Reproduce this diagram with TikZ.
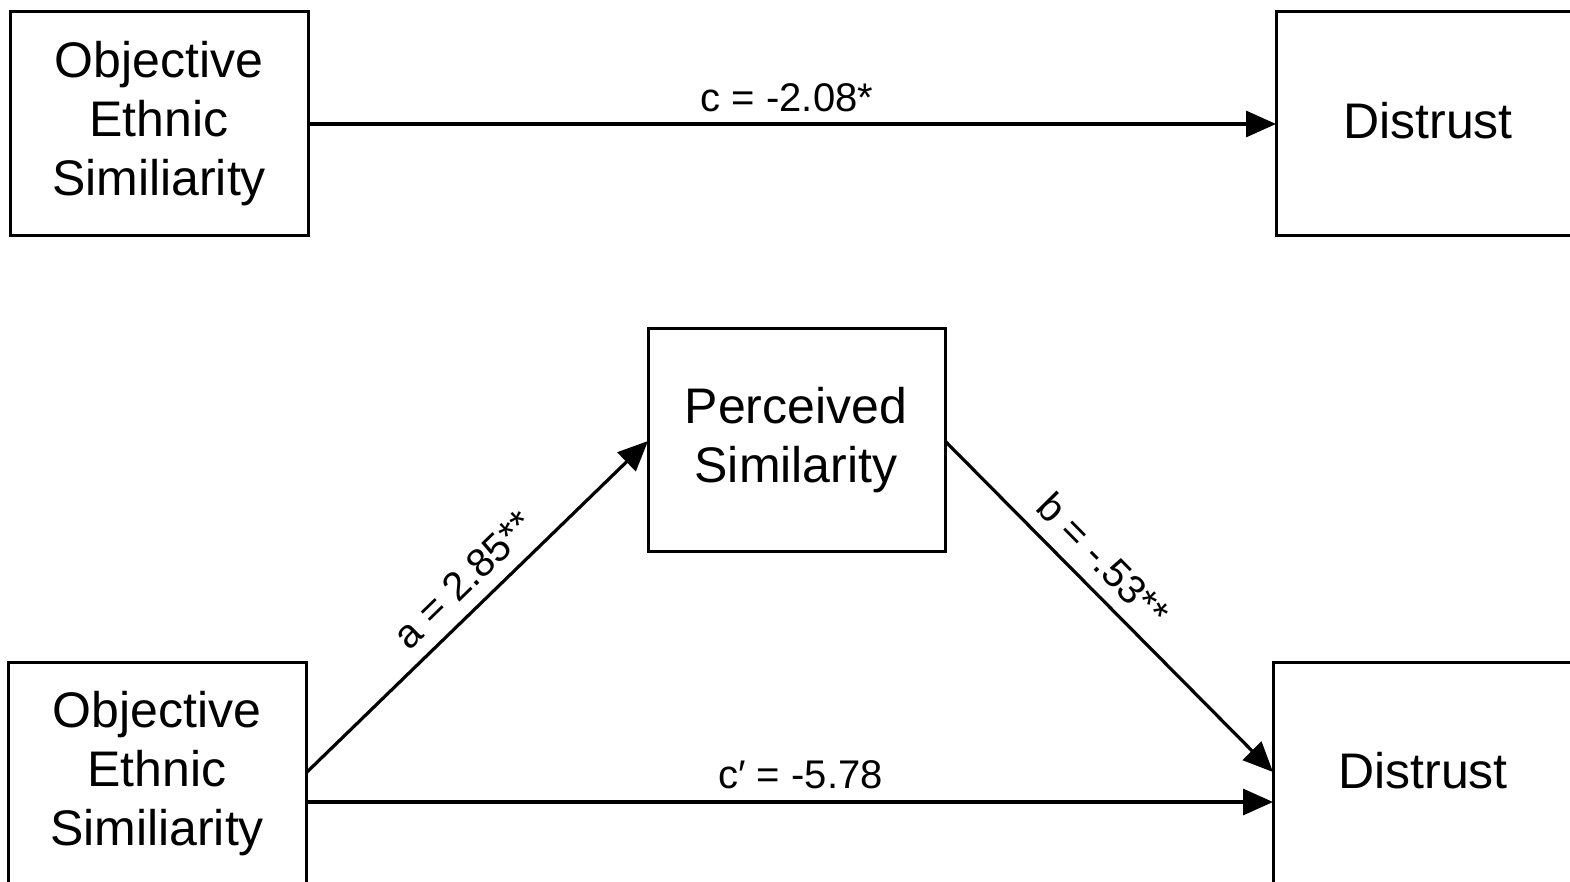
\documentclass[tikz,border=0pt]{standalone}
\usepackage{fontspec}
\setmainfont{Liberation Sans}
\usetikzlibrary{arrows.meta}
\begin{document}
\begin{tikzpicture}[x=1pt,y=-1pt,
  box/.style={draw=black,line width=3pt,fill=white},
  boxtext/.style={align=center,font=\fontsize{50}{59}\selectfont,inner sep=0pt},
  arr/.style={line width=3.2pt,-{Triangle[length=30pt,width=26pt]}},
  lbl/.style={font=\fontsize{40}{46}\selectfont,inner sep=3pt}]
\useasboundingbox (0,0) rectangle (1570,882);
\clip (0,0) rectangle (1570,882);
% boxes
\draw[box] (10,12) rectangle (308,236);
\node[boxtext] (oes1) at (159,124) {Objective\\Ethnic\\Similiarity};
\draw[box] (1276,12) rectangle (1590,236);
\node[boxtext] (dis1) at (1428,121) {Distrust};
\draw[box] (648,328) rectangle (945,551);
\node[boxtext] (ps) at (796,440) {Perceived\\Similarity};
\draw[box] (8,662) rectangle (306,890);
\node[boxtext] (oes2) at (157,774) {Objective\\Ethnic\\Similiarity};
\draw[box] (1273,662) rectangle (1590,890);
\node[boxtext] (dis2) at (1423,771) {Distrust};
% connector end points on box borders
\coordinate (t1) at (308,124);
\coordinate (t2) at (1276,124);
\coordinate (a1) at (306,773);
\coordinate (a2) at (648,441);
\coordinate (b1) at (945,441);
\coordinate (b2) at (1273,772);
\coordinate (c1) at (306,802);
\coordinate (c2) at (1273,802);
\draw[arr] (t1) -- (t2) node[lbl,midway,above=8pt,xshift=-5pt] {c = -2.08*};
\draw[arr] (a1) -- (a2) node[lbl,pos=0.52,above=10pt,sloped] {a = 2.85**};
\draw[arr] (b1) -- (b2) node[lbl,pos=0.42,above=10pt,sloped] {b = -.53**};
\draw[arr] (c1) -- (c2) node[lbl,midway,above=9pt,xshift=11pt] {c′ = -5.78};
\end{tikzpicture}
\end{document}
